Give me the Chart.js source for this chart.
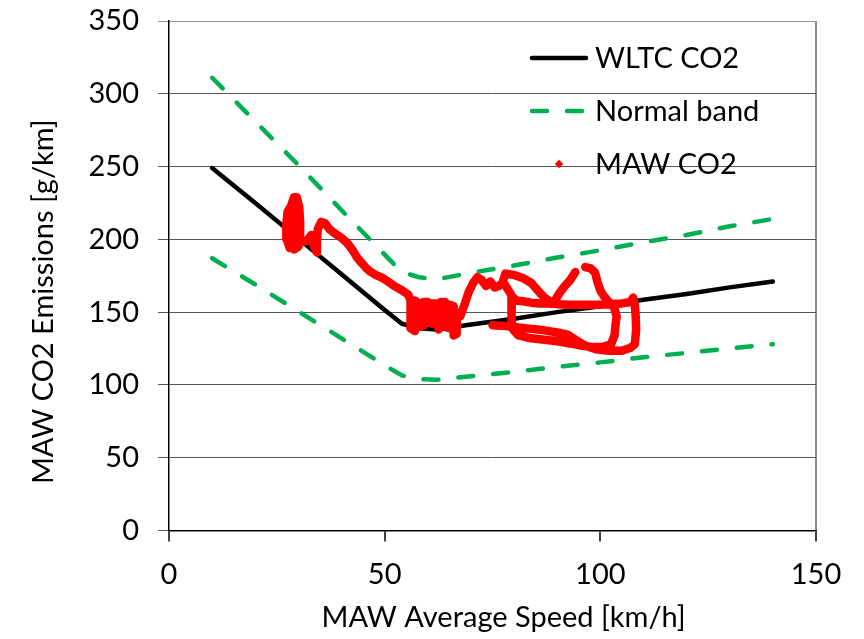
<!DOCTYPE html>
<html><head><meta charset="utf-8">
<script src="https://cdn.jsdelivr.net/npm/chart.js@4.4.1/dist/chart.umd.min.js"></script>
<style>html,body{margin:0;padding:0;background:#fff;}#wrap{width:864px;height:639px;}</style>
</head><body><div id="wrap"><canvas id="c" width="864" height="639"></canvas></div>
<script>
// ---- data ----
const xTicks = [0, 50, 100, 150];
const yTicks = [0, 50, 100, 150, 200, 250, 300, 350];

const bandSpeed = [10, 20, 30, 40, 50, 54, 58, 62, 70, 80, 90, 100, 110, 120, 130, 140];
const wltcCO2   = [249, 225, 200.5, 176, 151.5, 142, 139, 138, 141.5, 145.5, 150, 154, 158.5, 162.5, 167, 171];
const bandUpper = [311, 281, 251, 220, 189.5, 177.5, 174, 172.5, 177, 182, 187.5, 192.5, 198, 203, 209, 214];
const bandLower = [187, 169, 150.5, 132, 113.5, 106.5, 104, 103.5, 106, 109, 112.5, 115.5, 119, 122, 125, 128];

// MAW trajectory (null = break between traced segments)
const mawSpeed = [
  28, 27.3, 27.2, 27.5, 28.3, 29, 29.6, 30.2, 30.4, 30.4, 30, 29, 28.2, 28.3, 28.8, 29.5, 29.5, 29.3, 29.6, 30.5,
  32, 33, 33.5, 34.3, 34.3, 34.5, 35.3, 36.2, 37.2, 38.5, 40, 41.3, 42.5, 43.5, 44.3, 45.5, 46.6,
  48, 49.5, 51, 52.5, 54, 55.5,
  56, 56, 57, 57, 58, 58, 59, 59, 60, 60, 61, 61, 62, 62.5, 63, 63, 64, 64, 65, 65, 66, 66, 66.7, 66.7,
  67.5, 68.5, 69.5, 70.5, 71.5, 72.5, 73.5, 74.5, 75.5, 76.5, 77.5, 78.5, 79.5, 80.5, 82, 84, 86, 88,
  90, 93, 96, 99, 102, 105, 107, 107.6, 108, 108.2, 108.3, 108, 107, 105, 102, 99, 96.5, 94.5,
  92.5, 90, 87, 84, 81, 78, 75,
  null,
  77.3, 78, 80, 82, 84, 85.5, 87, 88.5, 89.5, 90.5, 91.5, 93, 94.2,
  null,
  79.5, 79.3, 79.5, 79.8, 81, 84, 87, 90, 93, 95.5, 98, 100.5, 102.5, 103.3, 103.5, 103.8, 103.2,
  102, 100.8, 100, 99.3, 98.8, 97.8, 96.5
];
const mawCO2 = [
  194, 200, 210, 219, 223, 229, 229, 222, 212, 202, 195, 193, 200, 212, 222, 226, 215, 203, 196, 198,
  199, 203, 196, 191, 199, 207, 212, 211, 207, 204, 201, 197.5, 193, 188, 185, 181, 178,
  175.5, 173.5, 170.5, 167.5, 165, 162,
  158, 139, 137, 158, 156, 140, 141, 157, 157, 143, 142, 156, 156, 138, 141, 157, 157, 140, 139, 155, 154, 134, 135, 150,
  147, 155, 164, 170, 174, 172, 168, 171, 167, 168, 170.5, 166, 161, 158, 157.5, 156.5, 156, 156,
  155.5, 155, 155, 155, 155.5, 156, 157, 160, 155, 147, 138, 128, 125.5, 123.5, 123.5, 124.5, 127, 130.5,
  134.5, 136, 137.5, 138.5, 139.5, 140.5, 141,
  null,
  170, 176.5, 175.5, 173.5, 170, 165, 160, 157, 158, 163, 167, 172, 177.5,
  null,
  160, 152, 144, 138, 134, 132, 131, 130, 128.5, 127, 126, 126, 128, 134, 141, 147, 153,
  157, 161, 165, 171, 177, 180, 181
];

const seriesLabels = ['WLTC CO2', 'Normal band', 'MAW CO2'];
const xTitle = 'MAW Average Speed [km/h]';
const yTitle = 'MAW CO2 Emissions [g/km]';

// ---- build ----
const pts = (xs, ys) => xs.map((x, i) => ({ x: x, y: ys[i] }));
const FONT = { family: 'Lato', size: 29 };
const GREEN = '#00B050';

const legendPlugin = {
  id: 'insideLegend',
  afterDraw(chart) {
    const ctx = chart.ctx;
    const ds = chart.data.datasets;
    const rows = [
      { d: ds[0], y: 58 },
      { d: ds[1], y: 111 },
      { d: ds[3], y: 164 }
    ];
    const x0 = 530, x1 = 588, tx = 595;
    ctx.save();
    rows.forEach(r => {
      const d = r.d;
      if (d.showLegendMarker) {
        const cx = (x0 + x1) / 2, cy = r.y, h = 4.2;
        ctx.fillStyle = d.borderColor;
        ctx.beginPath();
        ctx.moveTo(cx, cy - h); ctx.lineTo(cx + h, cy); ctx.lineTo(cx, cy + h); ctx.lineTo(cx - h, cy);
        ctx.closePath(); ctx.fill();
      } else {
        ctx.strokeStyle = d.borderColor;
        ctx.lineWidth = d.borderWidth;
        ctx.lineCap = d.borderCapStyle || 'butt';
        ctx.setLineDash(d.borderDash || []);
        ctx.beginPath(); ctx.moveTo(x0 + 2, r.y); ctx.lineTo(x1 - 2, r.y); ctx.stroke();
        ctx.setLineDash([]);
      }
      ctx.fillStyle = '#000';
      ctx.font = FONT.size + 'px ' + FONT.family;
      ctx.textBaseline = 'middle';
      ctx.textAlign = 'left';
      ctx.fillText(d.label, tx, r.y + 1);
    });
    ctx.restore();
  }
};

new Chart(document.getElementById('c'), {
  type: 'scatter',
  data: {
    datasets: [
      { label: seriesLabels[0], data: pts(bandSpeed, wltcCO2), showLine: true, borderColor: '#000',
        borderWidth: 4.5, pointRadius: 0, borderCapStyle: 'round', borderJoinStyle: 'round', order: 1 },
      { label: seriesLabels[1], data: pts(bandSpeed, bandUpper), showLine: true, borderColor: GREEN,
        borderWidth: 4.5, borderDash: [15, 20], borderCapStyle: 'round', pointRadius: 0, order: 2 },
      { label: seriesLabels[1], data: pts(bandSpeed, bandLower), showLine: true, borderColor: GREEN,
        borderWidth: 4.5, borderDash: [15, 20], borderCapStyle: 'round', pointRadius: 0, order: 2 },
      { label: seriesLabels[2], data: pts(mawSpeed, mawCO2), showLine: true, spanGaps: false,
        borderColor: '#FF0000', backgroundColor: '#FF0000', borderWidth: 8.5, borderCapStyle: 'round',
        borderJoinStyle: 'round', pointRadius: 0, order: 0, showLegendMarker: true }
    ]
  },
  options: {
    responsive: false,
    devicePixelRatio: 1,
    animation: false,
    layout: { padding: { left: 22, top: 21, right: 48, bottom: 0 } },
    plugins: { legend: { display: false }, tooltip: { enabled: false } },
    scales: {
      x: {
        type: 'linear', min: 0, max: 150,
        afterBuildTicks: s => { s.ticks = xTicks.map(v => ({ value: v })); },
        afterFit: s => { s.height = 108.5; s.paddingLeft = 0; s.paddingRight = 0; },
        grid: {
          color: c => (c.tick && c.tick.value === 150) ? '#8c8c8c' : 'rgba(0,0,0,0)',
          lineWidth: 2, tickColor: '#000', tickLength: 11, tickWidth: 1.5
        },
        border: { color: '#000', width: 1.5 },
        ticks: { color: '#000', font: FONT, padding: 16, maxRotation: 0 },
        title: { display: true, text: '   ' + xTitle, color: '#000', font: FONT, padding: { top: 4, bottom: 4 } }
      },
      y: {
        type: 'linear', min: 0, max: 350,
        afterBuildTicks: s => { s.ticks = yTicks.map(v => ({ value: v })); },
        afterFit: s => { s.width = 147; s.paddingTop = 0; s.paddingBottom = 0; },
        grid: {
          color: c => (c.tick && c.tick.value === 350) ? '#999' : '#555',
          lineWidth: 1, tickLength: 11
        },
        border: { color: '#000', width: 1.5 },
        ticks: { color: '#000', font: FONT, padding: 19 },
        title: { display: true, text: yTitle + '       ', color: '#000', font: FONT, padding: { top: 4, bottom: 4 } }
      }
    }
  },
  plugins: [legendPlugin]
});
</script>
</body></html>
